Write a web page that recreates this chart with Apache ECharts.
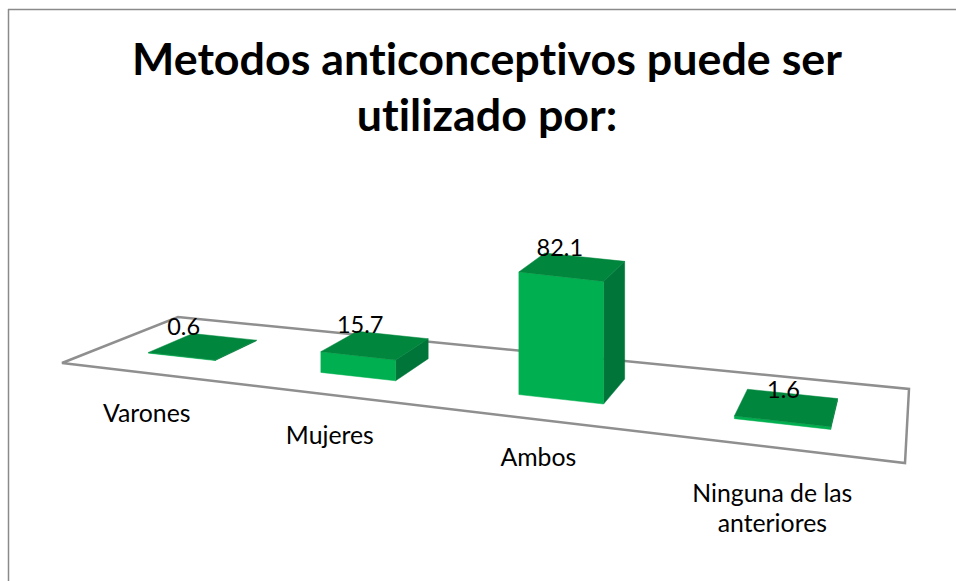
<!DOCTYPE html>
<html><head><meta charset="utf-8">
<style>html,body{margin:0;padding:0;background:#fff}#c{width:956px;height:581px}
#c text{font-variant-ligatures:none !important}</style>
<script src="https://cdn.jsdelivr.net/npm/echarts@6/dist/echarts.min.js"></script>
</head><body><div id="c"></div>
<script>
const titleText = "Metodos anticonceptivos puede ser\nutilizado por:";
const categories = ["Varones", "Mujeres", "Ambos", "Ninguna de las\nanteriores"];
const values = [0.6, 15.7, 82.1, 1.6];

// Layout of the perspective floor: FL, FR, BR, BL
const FLOOR = [[62,363],[905,463],[909,389],[178,317]];
const BAR_U = 0.1, BAR_V = [0.30, 0.70];
const BACK_SHRINK = 0.96;
const BAR_U_NUDGE = [0, 0, 0.005, 0];
const VALUE_NUDGE = [[-9,4],[3,5],[15,6],[36,12]];
const CAT_NUDGE = [[1,25],[1,25],[2,22],[-1,30]];
const FONT = 'Lato, "Noto Sans", sans-serif';

function makeHomography(q){
  const [p0,p1,p2,p3]=q;
  const dx1=p1[0]-p2[0],dx2=p3[0]-p2[0],sx=p0[0]-p1[0]+p2[0]-p3[0];
  const dy1=p1[1]-p2[1],dy2=p3[1]-p2[1],sy=p0[1]-p1[1]+p2[1]-p3[1];
  const d=dx1*dy2-dx2*dy1;
  const g=(sx*dy2-dx2*sy)/d,h=(dx1*sy-sx*dy1)/d;
  const a=p1[0]-p0[0]+g*p1[0],b=p3[0]-p0[0]+h*p3[0],c=p0[0];
  const e=p1[1]-p0[1]+g*p1[1],f=p3[1]-p0[1]+h*p3[1],k=p0[1];
  return (u,v)=>{const w=g*u+h*v+1;return [(a*u+b*v+c)/w,(e*u+f*v+k)/w];};
}
const proj = makeHomography(FLOOR);
const depthAt = u => proj(u,0)[1]-proj(u,1)[1];
const uOf = (api,params,i) => (api.coord([i,0])[0]-params.coordSys.x)/params.coordSys.width;

function renderFloor(){
  return {type:'polygon',silent:true,shape:{points:FLOOR},
    style:{fill:'none',stroke:'#8f8f8f',lineWidth:2.5,lineJoin:'miter'}};
}
function barHeight(api,uc,val){ return val*api.size([0,1])[1]*depthAt(uc)/depthAt(0.625); }
function renderBar(params,api){
  const i=api.value(0),val=api.value(1),uc=uOf(api,params,i)+BAR_U_NUDGE[i];
  const u0=uc-BAR_U/2,u1=uc+BAR_U/2,v0=BAR_V[0],v1=BAR_V[1];
  const h=barHeight(api,uc,val);
  const up=(u,v)=>{const p=proj(u,v);return [p[0],p[1]-(v===v1?h*BACK_SHRINK:h)];};
  const poly=(pts,fill)=>({type:'polygon',shape:{points:pts},style:{fill,stroke:fill,lineWidth:0.5}});
  return {type:'group',children:[
    poly([proj(u1,v0),proj(u1,v1),up(u1,v1),up(u1,v0)],'#00753a'),
    poly([proj(u0,v0),proj(u1,v0),up(u1,v0),up(u0,v0)],'#00b050'),
    poly([up(u0,v0),up(u1,v0),up(u1,v1),up(u0,v1)],'#00863d')
  ]};
}
function renderValue(params,api){
  const i=api.value(0),val=api.value(1),uc=uOf(api,params,i)+BAR_U_NUDGE[i];
  const p=proj(uc-BAR_U/2,BAR_V[1]);
  const h=barHeight(api,uc,val)*BACK_SHRINK;
  return {type:'text',style:{text:String(val),x:p[0]+VALUE_NUDGE[i][0],y:p[1]-h+VALUE_NUDGE[i][1],align:'center',verticalAlign:'bottom',
    fill:'#000',font:'23.5px '+FONT}};
}
function renderCat(params,api){
  const i=api.value(0),uc=uOf(api,params,i);
  const p=proj(uc,0);
  return {type:'text',style:{text:categories[i],x:p[0]+CAT_NUDGE[i][0],y:p[1]+CAT_NUDGE[i][1],align:'center',verticalAlign:'top',lineHeight:30,
    fill:'#000',font:'24.8px '+FONT}};
}
const seriesData = values.map((v,i)=>[i,v]);
const chart = echarts.init(document.getElementById('c'),null,{renderer:'svg'});
chart.setOption({
  animation:false,backgroundColor:'#fff',
  title:{text:titleText,left:482,top:25,textAlign:'center',
    textStyle:{fontFamily:FONT,fontWeight:'bold',fontSize:44.8,lineHeight:56,color:'#000'}},
  grid:{left:62,width:843,top:200,height:149},
  xAxis:{type:'category',data:categories,show:false},
  yAxis:{type:'value',min:0,max:100,show:false},
  graphic:[
    {type:'line',silent:true,shape:{x1:8.5,y1:9,x2:8.5,y2:581},style:{stroke:'#8a8a8a',lineWidth:1.5}},
    {type:'line',silent:true,shape:{x1:8,y1:9.5,x2:956,y2:9.5},style:{stroke:'#8a8a8a',lineWidth:1.5}}
  ],
  series:[
    {type:'custom',z:1,silent:true,data:[[0,0]],renderItem:renderFloor,clip:false},
    {type:'custom',z:2,silent:true,data:seriesData,renderItem:renderBar,clip:false},
    {type:'custom',z:3,silent:true,data:seriesData,renderItem:renderValue,clip:false},
    {type:'custom',z:3,silent:true,data:seriesData,renderItem:renderCat,clip:false}
  ]
});
</script></body></html>
